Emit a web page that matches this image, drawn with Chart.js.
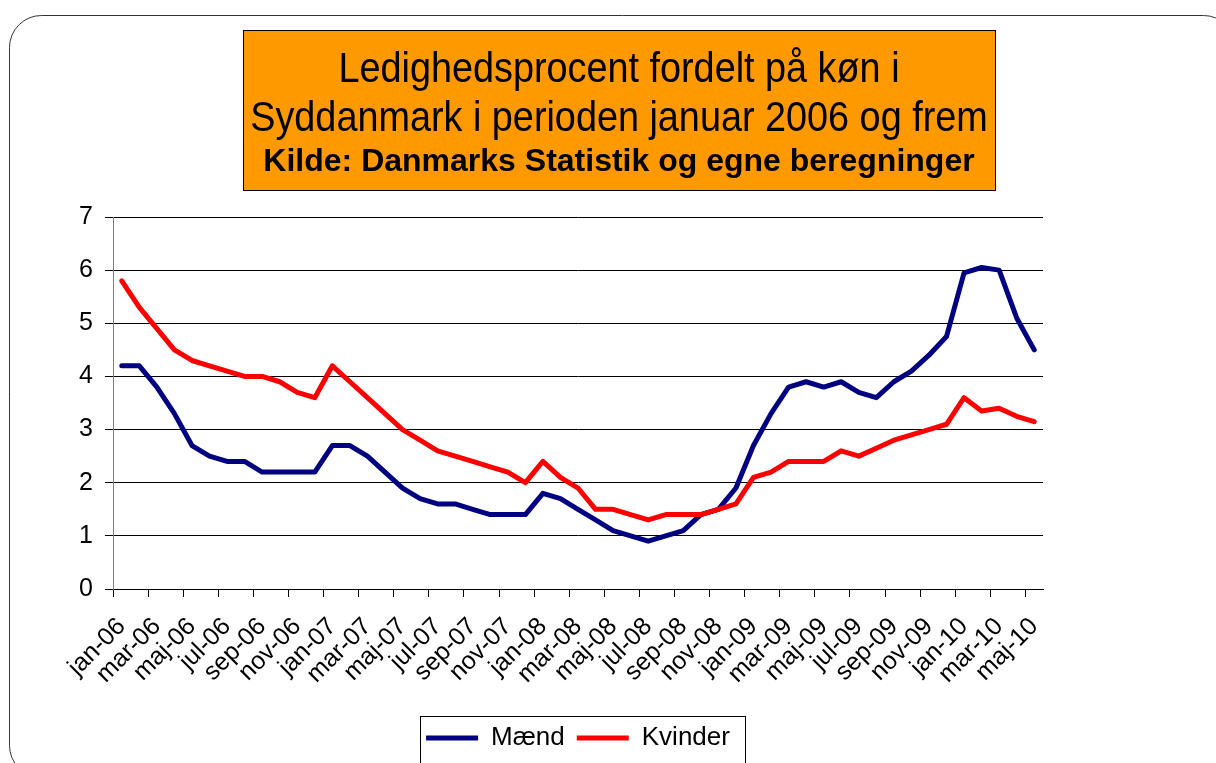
<!DOCTYPE html>
<html>
<head>
<meta charset="utf-8">
<script src="https://cdn.jsdelivr.net/npm/chart.js@4"></script>
<style>
  html, body { margin: 0; padding: 0; background: #fff; }
  #wrap { position: relative; width: 1216px; height: 763px; }
</style>
</head>
<body>
<div id="wrap"><canvas id="myChart"></canvas></div>
<script>
// months jan-06 .. maj-10 (53 categories)
const monthNames = ["jan", "feb", "mar", "apr", "maj", "jun", "jul", "aug", "sep", "okt", "nov", "dec"];
const years = ["06", "07", "08", "09", "10"];
const labels = [];
years.forEach(yr => monthNames.forEach(m => labels.push(m + "-" + yr)));
labels.length = 53;

// ledighedsprocent
const maend = [
  4.2, 4.2, 3.8, 3.3, 2.7, 2.5, 2.4, 2.4, 2.2, 2.2, 2.2, 2.2,
  2.7, 2.7, 2.5, 2.2, 1.9, 1.7, 1.6, 1.6, 1.5, 1.4, 1.4, 1.4,
  1.8, 1.7, 1.5, 1.3, 1.1, 1.0, 0.9, 1.0, 1.1, 1.4, 1.5, 1.9,
  2.7, 3.3, 3.8, 3.9, 3.8, 3.9, 3.7, 3.6, 3.9, 4.1, 4.4, 4.75,
  5.95, 6.05, 6.0, 5.1, 4.5
];
const kvinder = [
  5.8, 5.3, 4.9, 4.5, 4.3, 4.2, 4.1, 4.0, 4.0, 3.9, 3.7, 3.6,
  4.2, 3.9, 3.6, 3.3, 3.0, 2.8, 2.6, 2.5, 2.4, 2.3, 2.2, 2.0,
  2.4, 2.1, 1.9, 1.5, 1.5, 1.4, 1.3, 1.4, 1.4, 1.4, 1.5, 1.6,
  2.1, 2.2, 2.4, 2.4, 2.4, 2.6, 2.5, 2.65, 2.8, 2.9, 3.0, 3.1,
  3.6, 3.35, 3.4, 3.25, 3.15
];

const yMin = 0;
const yMax = 7;

const titleLines = ["Ledighedsprocent fordelt på køn i", "Syddanmark i perioden januar 2006 og frem"];
const subtitleText = "Kilde: Danmarks Statistik og egne beregninger";

const fontFamily = "'Liberation Sans', Arial, sans-serif";
Chart.defaults.font.family = fontFamily;
Chart.defaults.color = "#000";

// white page, rounded frame, orange title box with its text, legend border
const framePlugin = {
  id: "frame",
  beforeDraw(chart) {
    const ctx = chart.ctx;
    ctx.save();
    ctx.fillStyle = "#fff";
    ctx.fillRect(0, 0, chart.width, chart.height);

    const x = 9.5, y = 15.5, w = 1226, h = 762, r = 32;
    ctx.beginPath();
    ctx.moveTo(x + r, y);
    ctx.lineTo(x + w - r, y);
    ctx.arcTo(x + w, y, x + w, y + r, r);
    ctx.lineTo(x + w, y + h - r);
    ctx.arcTo(x + w, y + h, x + w - r, y + h, r);
    ctx.lineTo(x + r, y + h);
    ctx.arcTo(x, y + h, x, y + h - r, r);
    ctx.lineTo(x, y + r);
    ctx.arcTo(x, y, x + r, y, r);
    ctx.closePath();
    ctx.strokeStyle = "#333";
    ctx.lineWidth = 1;
    ctx.stroke();

    // title box
    ctx.fillStyle = "#FF9900";
    ctx.fillRect(243, 30, 752, 160);
    ctx.strokeStyle = "#000";
    ctx.strokeRect(243.5, 30.5, 752, 160);

    ctx.fillStyle = "#000";
    ctx.textAlign = "center";
    ctx.textBaseline = "alphabetic";
    ctx.font = "42px " + fontFamily;
    const baselines = [82, 131];
    titleLines.forEach((line, i) => {
      ctx.save();
      ctx.translate(619, baselines[i]);
      ctx.scale(0.9, 1); // the original title font is a bit narrow
      ctx.fillText(line, 0, 0);
      ctx.restore();
    });
    ctx.font = "bold 32px " + fontFamily;
    ctx.fillText(subtitleText, 619, 171);
    ctx.restore();
  },
  afterDraw(chart) {
    const ctx = chart.ctx;
    ctx.save();
    ctx.strokeStyle = "#000";
    ctx.lineWidth = 1;
    ctx.strokeRect(420.5, 716.5, 325, 60);
    ctx.restore();
  }
};

const ctx = document.getElementById("myChart");
new Chart(ctx, {
  type: "line",
  data: {
    labels: labels,
    datasets: [
      {
        label: "Mænd",
        data: maend,
        borderColor: "#000080",
        backgroundColor: "#000080",
        borderWidth: 5,
        pointRadius: 0,
        pointStyle: "line",
        tension: 0,
        borderCapStyle: "round",
        borderJoinStyle: "round",
        fill: false,
        order: 1
      },
      {
        label: "Kvinder",
        data: kvinder,
        borderColor: "#FF0000",
        backgroundColor: "#FF0000",
        borderWidth: 5,
        pointRadius: 0,
        pointStyle: "line",
        tension: 0,
        borderCapStyle: "round",
        borderJoinStyle: "round",
        fill: false,
        order: 0 // red is drawn on top
      }
    ]
  },
  options: {
    responsive: true,
    maintainAspectRatio: false,
    animation: false,
    events: [],
    layout: { padding: { left: 20, right: 173, top: 217, bottom: 2 } },
    scales: {
      x: {
        offset: true,
        grid: {
          offset: true,
          drawOnChartArea: false,
          tickLength: 8,
          tickColor: c => (c.index % 2 === 0 ? "#000" : "rgba(0,0,0,0)")
        },
        border: { color: "#000", width: 1 },
        ticks: {
          autoSkip: false,
          maxRotation: 45,
          minRotation: 45,
          padding: 15,
          color: "#000",
          font: { size: 25 },
          callback: function (val, index) {
            return index % 2 === 0 ? this.getLabelForValue(val) : "";
          }
        },
        afterFit(scale) { scale.height = 124; }
      },
      y: {
        min: yMin,
        max: yMax,
        grid: { color: "#000", lineWidth: 1, tickLength: 8, tickColor: "#000" },
        border: { color: "#808080", width: 1 },
        ticks: { stepSize: 1, padding: 12, color: "#000", font: { size: 25 } },
        afterFit(scale) { scale.width = 93; }
      }
    },
    plugins: {
      title: { display: false },
      legend: {
        position: "bottom",
        fullSize: false,
        labels: {
          usePointStyle: true,
          pointStyleWidth: 52,
          padding: 12,
          color: "#000",
          font: { size: 26 },
          sort: (a, b) => a.datasetIndex - b.datasetIndex
        }
      },
      tooltip: { enabled: false }
    }
  },
  plugins: [framePlugin]
});
</script>
</body>
</html>
